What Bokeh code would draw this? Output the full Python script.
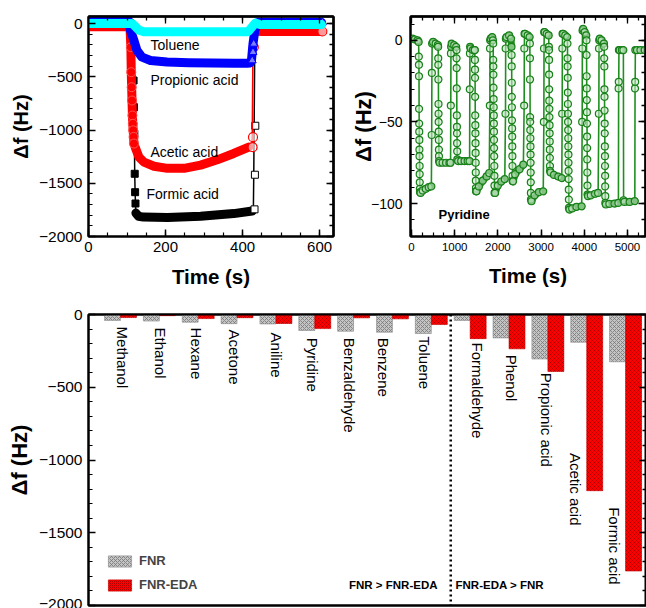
import numpy as np
from bokeh.plotting import figure
from bokeh.models import Label, Legend, LegendItem, SingleIntervalTicker, FixedTicker, Range1d, LinearAxis
from bokeh.layouts import column, row
from bokeh.embed import file_html
from bokeh.resources import INLINE

FONT = "Liberation Sans"

# ---------------- Panel (a): QCM responses of FNR-EDA ----------------
formic_t = [0, 60, 112, 116, 117, 118, 119, 120, 121, 122, 123, 130, 143, 205, 291, 377, 425, 428, 429, 430, 432, 480, 540, 605]
formic_v = [0, 0, 0, -100, -535, -786, -1036, -1411, -1584, -1690, -1780, -1810, -1818, -1822, -1810, -1785, -1760, -1745, -1420, -960, -20, 0, 0, 0]
formic_band = [1, 1, 1, 0, 0, 0, 0, 0, 0, 0, 1, 1, 1, 1, 1, 1, 1, 0, 0, 0, 1, 1, 1, 1]
formic_mark = [0, 0, 0, 0, 1, 1, 1, 1, 1, 1, 0, 0, 0, 0, 0, 0, 0, 2, 2, 2, 0, 0, 0, 0]

acetic_t = [0, 60, 104, 108, 110, 111, 112, 113, 114, 115, 116, 117, 118, 122, 131, 144, 170, 205, 248, 291, 334, 377, 416, 424, 425, 426, 427, 432, 450, 520, 605]
acetic_v = [-30, -30, -30, -60, -222, -457, -598, -723, -864, -942, -1003, -1065, -1127, -1170, -1255, -1302, -1340, -1360, -1360, -1330, -1280, -1220, -1160, -1161, -1067, -620, -222, -70, -75, -75, -75]
acetic_band = [1] * 23 + [0, 0, 0, 0] + [1, 1, 1, 1]
acetic_mark = [0, 0, 0, 0, 1, 1, 1, 1, 1, 1, 1, 1, 1, 0, 0, 0, 0, 0, 0, 0, 0, 0, 0, 2, 2, 0, 2, 0, 0, 0, 2]

prop_t = [0, 60, 104, 109, 118, 126, 139, 161, 204, 260, 320, 380, 412, 420, 423, 425, 427, 432, 439, 480, 540, 605]
prop_v = [30, 30, 30, -66, -160, -254, -316, -347, -362, -368, -370, -372, -372, -370, -347, -269, -191, -60, 10, 10, 10, 10]
prop_mark = [0] * 14 + [2, 2, 2] + [0] * 4 + [2]

tol_t = [0, 60, 112, 118, 130, 144, 200, 300, 412, 416, 425, 433, 445, 520, 605]
tol_v = [0, 0, 0, -15, -60, -78, -78, -78, -78, -70, -30, 5, -10, -10, -10]

series_names = ["Toluene", "Propionic acid", "Acetic acid", "Formic acid"]

# ---------------- Panel (b): repeated pyridine cycles ----------------
pyr_t = [
    20, 80, 140, 165, 170, 172, 174, 176, 178, 180, 182, 184, 186, 188, 190, 192, 194, 196, 210, 260, 330, 400, 460, 468, 472, 478,
    500, 560, 610, 617, 619, 621, 623, 625, 627, 629, 631, 633, 635, 637, 639, 650, 720, 800, 880, 905, 910, 913, 918,
    930, 990, 1035, 1042, 1044, 1046, 1048, 1050, 1052, 1054, 1056, 1058, 1060, 1080, 1150, 1230, 1300, 1345, 1350, 1353, 1358,
    1370, 1420, 1460, 1466, 1468, 1470, 1472, 1474, 1476, 1478, 1480, 1482, 1484, 1486, 1488, 1490, 1492, 1494, 1505, 1560, 1650, 1740, 1800, 1814, 1818, 1822,
    1835, 1870, 1885, 1891, 1893, 1895, 1897, 1899, 1901, 1903, 1905, 1907, 1909, 1911, 1913, 1915, 1917, 1919, 1921, 1923, 1935, 2000, 2080, 2160, 2176, 2180, 2185,
    2200, 2260, 2305, 2315, 2317, 2319, 2321, 2323, 2325, 2327, 2329, 2331, 2333, 2335, 2337, 2339, 2341, 2352, 2400, 2500, 2590, 2608, 2612, 2617,
    2630, 2690, 2735, 2740, 2742, 2744, 2746, 2748, 2750, 2752, 2754, 2756, 2758, 2760, 2762, 2764, 2766, 2777, 2850, 2950, 3050, 3064, 3068, 3073,
    3085, 3130, 3175, 3180, 3182, 3184, 3186, 3188, 3190, 3192, 3194, 3196, 3198, 3200, 3202, 3204, 3206, 3208, 3220, 3300, 3400, 3480, 3488, 3492, 3497,
    3510, 3560, 3605, 3611, 3613, 3615, 3617, 3619, 3621, 3623, 3625, 3627, 3629, 3631, 3633, 3635, 3637, 3639, 3641, 3643, 3645, 3657, 3720, 3820, 3940, 3951, 3955, 3960,
    3975, 4010, 4045, 4051, 4053, 4055, 4057, 4059, 4061, 4063, 4065, 4067, 4069, 4071, 4073, 4075, 4087, 4150, 4250, 4320, 4337, 4341, 4346,
    4360, 4400, 4455, 4460, 4462, 4464, 4466, 4468, 4470, 4472, 4474, 4476, 4478, 4480, 4482, 4484, 4486, 4488, 4500, 4580, 4700, 4790, 4795, 4798, 4802,
    4820, 4870, 4905, 4910, 4930, 5050, 5170, 5175, 5178, 5182, 5220, 5300, 5400,
]
pyr_v = [
    1, 0.5, 0, -1, -10, -15, -22, -42, -51, -56, -61, -67, -71, -77, -82, -87, -91, -93, -93.5, -92, -91, -90, -89.5, -58, -20, -2,
    -1, -2, -3, -4, -11, -15, -24, -39, -45, -50, -56, -61, -67, -71, -74, -75, -75, -75, -75, -75, -40, -8, -4,
    -2, -3, -4, -6, -11, -17, -29.5, -46, -53, -57, -63, -68, -73, -74, -74, -74, -74, -74, -30, -8, -4,
    -5, -6, -6, -6, -12, -18, -23, -34.6, -46, -52, -57, -63, -69, -75, -81, -86, -90.5, -92.5, -92.5, -89.5, -86, -83.4, -81.3, -40, -5, 0,
    1, 2, 0, -2, -12, -16, -21, -29, -36, -41, -46, -51, -56, -61, -66, -71, -77, -83, -89, -93.5, -93.5, -89, -86.5, -85, -45, -5, 1,
    2, 3, 1, -4, -9, -16, -26, -34.6, -41, -49, -54, -59, -65, -71, -77, -83, -86.4, -86.4, -82, -79, -76.2, -40, -5, 4,
    4, 3, 2, -2, -11, -24, -47, -50, -55, -60, -65, -70, -75, -81, -87, -93.5, -97.6, -98.6, -95, -93, -92.5, -50, -5, 5,
    5, 4, 3, -4, -6, -12, -21, -30, -37, -42, -47, -52, -57, -62, -67, -72, -77, -80, -81, -82.5, -83.5, -84.4, -45, -5, 4,
    4, 3, 2, -2, -11, -16, -23, -32, -39, -45, -50, -55, -60, -65, -70, -75, -80, -85, -91.5, -97.6, -102.7, -103.7, -103, -102, -101.7, -50, -5, 6,
    7, 5, 3, 0, -9, -22, -29.5, -36.6, -44, -51, -59, -66, -73, -81, -89, -94.5, -95.5, -95, -94, -93.5, -45, -5, 0,
    1, 0, -2, -4, -11, -16, -30, -34.6, -43, -51, -57, -65, -71, -77, -83, -89.5, -95.5, -99.6, -100.6, -100.2, -100, -99.6, -29.5, -25.4, -6,
    -6, -6, -6, -98, -99, -99, -98.5, -29.5, -25.4, -6, -6, -6, -6,
]

# ---------------- Panel (c): sensor responses ----------------
categories = ["Methanol", "Ethanol", "Hexane", "Acetone", "Aniline", "Pyridine", "Benzaldehyde",
              "Benzene", "Toluene", "Formaldehyde", "Phenol", "Propionic acid", "Acetic acid", "Formic acid"]
fnr = [-41, -45, -53, -63, -65, -110, -115, -122, -131, -41, -161, -306, -191, -325]
fnr_eda = [-21, -8, -28, -22, -62, -97, -23, -30, -69, -166, -236, -391, -1211, -1763]
# annotation placement for the rotated category names (data y where text starts, px shift)
label_y = [-83, -90, -90, -103, -124, -159, -159, -159, -152, -193, -276, -400, -952, -1324]
label_dx = [1.5, 1, -2, -3, 1, -2, -4, -9, -7, 7, 2, -1, -11, -11]

NAN = float("nan")
YTITLE = "\u0394f (Hz)"


# ---------------- helpers ----------------
def make_fig(w, h, xr, yr, bl, br, bt, bb):
    p = figure(width=w, height=h, x_range=Range1d(*xr), y_range=Range1d(*yr),
               output_backend="svg", toolbar_location=None,
               min_border_left=bl, min_border_right=br, min_border_top=bt, min_border_bottom=bb)
    p.grid.visible = False
    p.outline_line_color = "black"
    p.outline_line_width = 2
    p.background_fill_color = "white"
    p.border_fill_color = "white"
    return p


def main_axis(ax, interval, minor, size, standoff, title=None, title_size="20px", title_standoff=6):
    ax.ticker = SingleIntervalTicker(interval=interval, num_minor_ticks=minor)
    ax.axis_line_width = 2
    ax.major_tick_in = 7
    ax.major_tick_out = 0
    ax.minor_tick_in = 4
    ax.minor_tick_out = 0
    ax.major_tick_line_width = 1.5
    ax.minor_tick_line_width = 1.2
    ax.major_label_text_font = FONT
    ax.major_label_text_font_size = size
    ax.major_label_text_color = "black"
    ax.major_label_standoff = standoff
    if title:
        ax.axis_label = title
        ax.axis_label_text_font = FONT
        ax.axis_label_text_font_size = title_size
        ax.axis_label_text_font_style = "bold"
        ax.axis_label_text_color = "black"
        ax.axis_label_standoff = title_standoff


def mirror(p, side, majors, minors):
    """Unlabelled frame side with inward major/minor ticks."""
    groups = [(minors, 4), (majors, 7)] if len(majors) else [([], 0)]
    for pos, ln in groups:
        ax = LinearAxis(ticker=FixedTicker(ticks=[], minor_ticks=[float(q) for q in pos]))
        ax.axis_line_width = 2
        ax.major_tick_in = 0
        ax.major_tick_out = 0
        ax.minor_tick_in = ln
        ax.minor_tick_out = 0
        ax.minor_tick_line_width = 1.3
        ax.major_label_standoff = 0
        p.add_layout(ax, side)


def lab(p, x, y, text, size, style="normal", angle=0.0, align="left", baseline="middle"):
    p.add_layout(Label(x=x, y=y, text=text, text_font=FONT, text_font_size=size, text_font_style=style,
                       angle=angle, text_align=align, text_baseline=baseline, text_color="black"))


def masked(vals, flags):
    return [v if fl else NAN for v, fl in zip(vals, flags)]


# ================= Panel (a) =================
XA, YA = (0, 636), (-2000, 66)
pa = make_fig(340, 300, XA, YA, 88, 7, 16, 64)
main_axis(pa.xaxis[0], 200, 4, "15px", 5, "Time (s)", "20.5px", 10)
main_axis(pa.yaxis[0], 500, 5, "15.5px", 6, YTITLE, "20px", 4)
mirror(pa, "above", range(0, 601, 200), range(50, 636, 50))
mirror(pa, "right", range(-2000, 1, 500), range(-1900, 66, 100))

BAND = 9
pa.line(formic_t, formic_v, line_color="black", line_width=1.5)
pa.line(formic_t, masked(formic_v, formic_band), line_color="black", line_width=BAND,
        line_join="round", line_cap="round")
ft = np.array(formic_t, float); fv = np.array(formic_v, float); fm = np.array(formic_mark)
pa.scatter(ft[fm == 1], fv[fm == 1], marker="square", size=7, fill_color="black", line_color="black")
pa.scatter(ft[fm == 2] + 3, fv[fm == 2], marker="square", size=7, fill_color="white", line_color="black")

pa.line(acetic_t, acetic_v, line_color="red", line_width=1.5)
pa.line(acetic_t, masked(acetic_v, acetic_band), line_color="red", line_width=BAND,
        line_join="round", line_cap="round")
at = np.array(acetic_t, float); av = np.array(acetic_v, float); am = np.array(acetic_mark)
pa.scatter(at[am == 1], av[am == 1], marker="circle", size=9, fill_color="red", line_color="#ff5050")
pa.scatter(at[am == 2] + 2, av[am == 2], marker="circle", size=9, fill_color="white", fill_alpha=0.6,
           line_color="red", line_width=1.2)

pa.line(prop_t, prop_v, line_color="blue", line_width=BAND, line_join="round", line_cap="round")
pt = np.array(prop_t, float); pv = np.array(prop_v, float); pm = np.array(prop_mark)
pa.scatter(pt[pm == 2] + 2, pv[pm == 2], marker="triangle", size=8, fill_color="white", fill_alpha=0.5,
           line_color="blue", line_width=1)

pa.line(tol_t, tol_v, line_color="#00ffff", line_width=BAND, line_join="round", line_cap="round")

# page px -> data helpers for panel (a): box 88..333 x 16..236
ax_ = lambda X: XA[0] + (X - 88) * (XA[1] - XA[0]) / 245
ay_ = lambda Y: YA[1] - (Y - 16) * (YA[1] - YA[0]) / 220
text_pos_a = [(150, 44), (150, 79), (150, 151), (146, 193)]
for name, (X, Y) in zip(series_names, text_pos_a):
    lab(pa, ax_(X), ay_(Y), name, "14px")

# ================= Panel (b) =================
XB, YB = (-23, 5417), (-120.2, 14.6)
pb = make_fig(306, 300, XB, YB, 70, 1, 16, 63)
main_axis(pb.xaxis[0], 1000, 4, "11.5px", 6, "Time (s)", "20.5px", 10)
main_axis(pb.yaxis[0], 50, 5, "14px", 8, YTITLE, "22px", -8)
mirror(pb, "above", range(0, 5001, 1000), range(250, 5417, 250))
mirror(pb, "right", range(-100, 1, 50), range(-120, 14, 10))

band_x, band_y = [], []
for i in range(len(pyr_t) - 1):
    if abs(pyr_t[i + 1] - pyr_t[i]) >= 10 and abs(pyr_v[i + 1] - pyr_v[i]) < 6:
        band_x += [float(pyr_t[i]), float(pyr_t[i + 1]), NAN]
        band_y += [float(pyr_v[i]), float(pyr_v[i + 1]), NAN]
GREEN = "#1f901f"
pb.line(pyr_t, pyr_v, line_color=GREEN, line_width=1.6)
pb.line(x=band_x, y=band_y, line_color=GREEN, line_width=7, line_cap="round")
pb.scatter(pyr_t, pyr_v, marker="circle", size=7, fill_color="#c4e6c4", fill_alpha=0.6,
           line_color="#188018", line_width=1.2)

bx_ = lambda X: XB[0] + (X - 410) * (XB[1] - XB[0]) / 235
by_ = lambda Y: YB[1] - (Y - 16) * (YB[1] - YB[0]) / 221
lab(pb, bx_(438), by_(215), "Pyridine", "13px", "bold")

# ================= Panel (c) =================
XC, YC = (-0.824, 13.539), (-2000, 0)
pc = make_fig(646, 308, XC, YC, 88, 0, 14, 3)
pc.xaxis[0].ticker = FixedTicker(ticks=[], minor_ticks=[])
pc.xaxis[0].axis_line_width = 2
pc.xaxis[0].major_tick_in = 0
pc.xaxis[0].major_tick_out = 0
pc.xaxis[0].minor_tick_in = 0
pc.xaxis[0].minor_tick_out = 0
pc.xaxis[0].major_label_standoff = 0
main_axis(pc.yaxis[0], 500, 5, "15.5px", 6, YTITLE, "22px", 4)
mirror(pc, "above", [], [])
mirror(pc, "right", range(-2000, 1, 500), range(-1900, 0, 100))

idx = np.arange(len(categories))
r1 = pc.vbar(x=idx - 0.206, top=fnr, bottom=0, width=0.41, fill_color="#c4c4c4",
             line_color="#8a8a8a", line_width=0.6, hatch_pattern="x", hatch_color="#777777",
             hatch_scale=4, hatch_weight=0.8)
r2 = pc.vbar(x=idx + 0.206, top=fnr_eda, bottom=0, width=0.41, fill_color="#ff0000",
             line_color="#c00000", line_width=0.6, hatch_pattern="x", hatch_color="#a00000",
             hatch_scale=4, hatch_weight=0.8)

cxs = (XC[1] - XC[0]) / 558
for i, name in enumerate(categories):
    pc.add_layout(Label(x=i + label_dx[i] * cxs, y=label_y[i], text=name, text_font=FONT,
                        text_font_size="15px", angle=-np.pi / 2, text_align="left",
                        text_baseline="middle", text_color="black"))

pc.line(x=[8.5, 8.5], y=[YC[1], YC[0]], line_color="black", line_width=2.5, line_dash="2 3")
cx_ = lambda X: XC[0] + (X - 88) * cxs
cy_ = lambda Y: YC[1] - (Y - 314) * (YC[1] - YC[0]) / 291
lab(pc, cx_(437), cy_(584), "FNR > FNR-EDA", "11.5px", "bold", align="right")
lab(pc, cx_(455), cy_(584), "FNR-EDA > FNR", "11.5px", "bold", align="left")

legend = Legend(items=[LegendItem(label="FNR", renderers=[r1]), LegendItem(label="FNR-EDA", renderers=[r2])],
                location=(17, 13), padding=0, margin=0, spacing=9, glyph_width=29, glyph_height=14,
                label_height=14, label_standoff=5, label_text_font=FONT, label_text_font_size="13px",
                label_text_font_style="bold", border_line_alpha=0, background_fill_alpha=0)
pc.add_layout(legend)

layout = column(row(pa, pb), pc)
open("out.html", "w").write(file_html(layout, INLINE))
